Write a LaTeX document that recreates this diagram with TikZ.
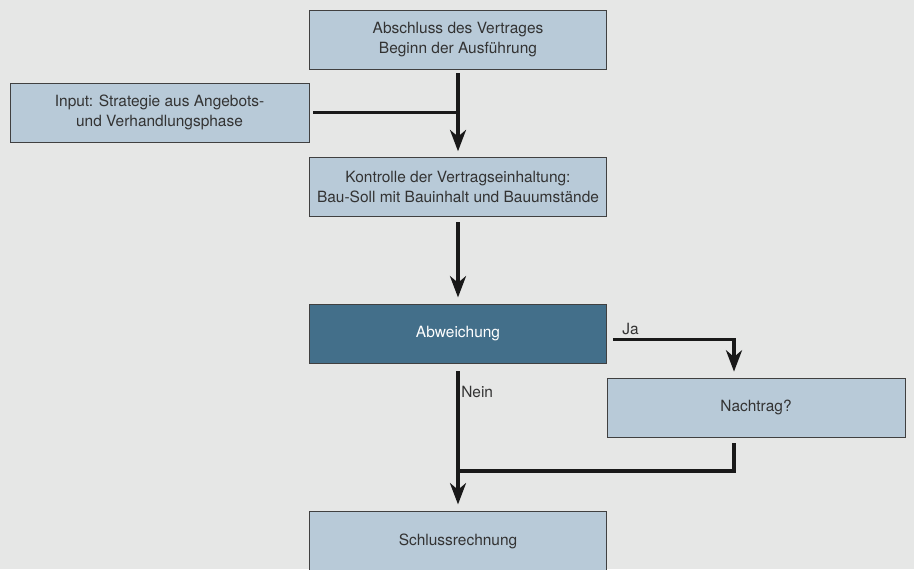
\documentclass[tikz,border=0pt]{standalone}
\usepackage{fontspec}
\setmainfont{TeX Gyre Heros}
\usetikzlibrary{arrows.meta}
\definecolor{boxblue}{HTML}{B8CAD8}
\definecolor{boxdark}{HTML}{436F8A}
\definecolor{bggray}{HTML}{E6E7E6}
\definecolor{txtgray}{HTML}{333333}
\begin{document}
\begin{tikzpicture}[x=0.75pt, y=-0.75pt,
    box/.style={rectangle, draw=black!75, line width=0.6pt, fill=boxblue, text=txtgray,
        minimum width=222.75pt, minimum height=44.25pt, align=center, inner sep=0pt,
        font=\fontsize{11.6}{15}\selectfont},
    flow/.style={line width=2.6pt, draw=black!90, -{Stealth[length=16pt,width=12pt,inset=5pt]}},
    joinline/.style={line width=2.6pt, draw=black!90},
    lbl/.style={font=\fontsize{11.6}{15}\selectfont, text=txtgray, inner sep=0pt}]
    \fill[bggray] (0,0) rectangle (914,569);
    \useasboundingbox (0,0) rectangle (914,569);
    \node[box] (start) at (458,39.5) {Abschluss des Vertrages\\Beginn der Ausführung};
    \node[box, minimum width=224.25pt] (input) at (159.5,112.5) {Input: Strategie aus Angebots-\\und Verhandlungsphase};
    \node[box] (kontrolle) at (458,186.5) {Kontrolle der Vertragseinhaltung:\\Bau-Soll mit Bauinhalt und Bauumstände};
    \node[box, fill=boxdark, text=white] (abw) at (458,334) {Abweichung};
    \node[box, minimum width=223.5pt] (nachtrag) at (756,407.5) {Nachtrag?};
    \node[box] (schluss) at (458,541) {Schlussrechnung};
    \coordinate (jabend) at (734,339.5);
    \coordinate (merge) at (734,471);
    \draw[flow, shorten <=3pt, shorten >=4pt] (start) -- (kontrolle);
    \draw[joinline, shorten <=3pt] (input.east) -- (input.east -| start.south);
    \draw[flow, shorten <=4.5pt, shorten >=5pt] (kontrolle) -- (abw);
    \draw[flow, shorten >=4.5pt] ([xshift=4.5pt]abw.east |- jabend) -- (jabend) -- (jabend |- nachtrag.north);
    \node[lbl, anchor=base west] (ja) at (622,334) {Ja};
    \draw[flow, shorten <=5.5pt, shorten >=5pt] (abw) -- (schluss);
    \node[lbl, anchor=west] (nein) at (461,392) {Nein};
    \draw[joinline, shorten <=4.5pt] (nachtrag.south -| merge) -- (merge) -- (merge -| abw.south);
\end{tikzpicture}
\end{document}
